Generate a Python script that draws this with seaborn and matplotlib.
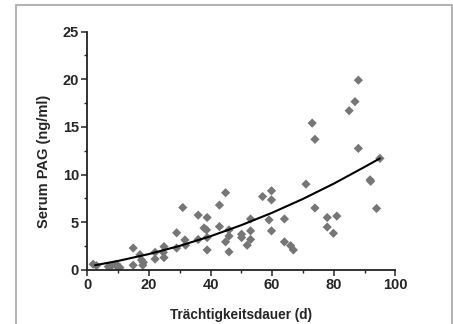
import numpy as np
import pandas as pd
import matplotlib
matplotlib.use("Agg")
import matplotlib.pyplot as plt
import seaborn as sns
from matplotlib.lines import Line2D
from matplotlib.ticker import MultipleLocator

tage = [1.9, 3.0, 6.8, 7.9, 9.5, 9.7, 10.6, 14.9, 14.9, 17.1, 17.6, 18.0, 18.2,
        22.0, 22.0, 24.7, 24.9, 24.9, 29.0, 29.0, 31.0, 31.7, 31.9, 36.0, 36.0,
        37.9, 38.7, 38.9, 38.9, 38.9, 42.9, 42.9, 44.9, 44.9, 46.0, 46.0, 46.0,
        50.1, 50.1, 51.9, 53.0, 53.0, 53.0, 56.9, 59.0, 59.8, 59.8, 59.8, 64.0,
        64.0, 66.0, 66.9, 71.0, 73.0, 73.9, 73.9, 77.9, 77.9, 79.9, 81.0, 85.0,
        86.9, 88.0, 88.0, 91.8, 92.0, 93.9, 95.0]
pag = [0.6, 0.45, 0.35, 0.45, 0.6, 0.35, 0.25, 2.3, 0.5, 1.6, 1.05, 0.5, 0.8,
       1.85, 1.15, 1.85, 2.45, 1.3, 3.9, 2.3, 6.55, 3.15, 2.6, 5.75, 3.2,
       4.4, 4.2, 5.5, 3.4, 2.1, 6.8, 4.55, 8.1, 2.95, 4.2, 3.55, 1.9,
       3.75, 3.4, 2.6, 5.35, 4.1, 3.2, 7.7, 5.25, 8.3, 7.35, 4.1, 5.35,
       2.95, 2.55, 2.1, 9.0, 15.4, 13.7, 6.5, 5.5, 4.5, 3.85, 5.65, 16.7,
       17.65, 19.9, 12.75, 9.45, 9.3, 6.45, 11.7]

# Regressionskurve
kurve_x = [2.5, 10, 20, 30, 40, 50, 60, 70, 80, 90, 95]
kurve_y = [0.5, 0.95, 1.67, 2.53, 3.54, 4.7, 6.0, 7.45, 9.05, 10.8, 11.7]

punkte = pd.DataFrame({"tage": tage, "pag": pag})
kurve = pd.DataFrame({"x": kurve_x, "y": kurve_y})

sns.set_style("ticks")
plt.rcParams["font.family"] = ["Liberation Sans", "DejaVu Sans"]

fig = plt.figure(figsize=(4.53, 3.24), dpi=100)
ax = fig.add_axes([0.1927, 0.1667, 0.68, 0.736])

sns.scatterplot(data=punkte, x="tage", y="pag", marker="D", s=22,
                color="#767676", edgecolor="none", ax=ax, zorder=2)
sns.lineplot(data=kurve, x="x", y="y", color="black", linewidth=1.5,
             ax=ax, zorder=3)

ax.set_xlim(0, 100)
ax.set_ylim(0, 25)
ax.xaxis.set_major_locator(MultipleLocator(20))
ax.xaxis.set_minor_locator(MultipleLocator(10))
ax.yaxis.set_major_locator(MultipleLocator(5))
ax.yaxis.set_minor_locator(MultipleLocator(2.5))
ax.tick_params(which="major", length=4, width=1.1, labelsize=10.5, pad=2)
ax.tick_params(which="minor", length=2.5, width=1.0)
for lbl in ax.get_xticklabels() + ax.get_yticklabels():
    lbl.set_fontweight("bold")

sns.despine(ax=ax)
for side in ["left", "bottom"]:
    ax.spines[side].set_linewidth(1.3)
    ax.spines[side].set_color("#222222")

ax.set_xlabel("Trächtigkeitsdauer (d)", fontsize=9.8, fontweight="bold")
ax.set_ylabel("Serum PAG (ng/ml)", fontsize=10.5, fontweight="bold")
ax.xaxis.set_label_coords(0.5, -0.16)
ax.yaxis.set_label_coords(-0.118, 0.455)

# grauer Rahmen (links, oben, rechts)
l, r, t = 16 / 453, 451.5 / 453, 1 - 4.7 / 324
fig.add_artist(Line2D([l, l, r, r], [0, t, t, 0], transform=fig.transFigure,
                      color="#b4b4b4", linewidth=1.5))

fig.savefig("out.png", dpi=100)
